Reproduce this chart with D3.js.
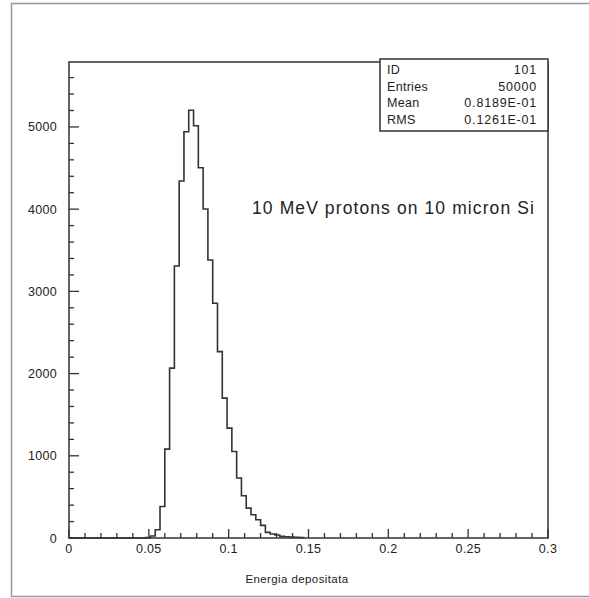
<!DOCTYPE html>
<html>
<head>
<meta charset="utf-8">
<script src="https://cdn.jsdelivr.net/npm/d3@7"></script>
<style>
  body { margin: 0; background: #fff; }
  text { font-family: "Liberation Sans", Arial, sans-serif; fill: #222; }
</style>
</head>
<body>
<div id="chart"></div>
<script>
// histogram 101 : energy deposited, bins of 0.003
const binLow = [0.048, 0.051, 0.054, 0.057, 0.060, 0.063, 0.066, 0.069, 0.072, 0.075,
                0.078, 0.081, 0.084, 0.087, 0.090, 0.093, 0.096, 0.099, 0.102, 0.105,
                0.108, 0.111, 0.114, 0.117, 0.120, 0.123, 0.126, 0.129, 0.132, 0.135,
                0.138, 0.141, 0.144]
const counts = [4, 25, 101, 384, 1081, 2066, 3309, 4343, 4941, 5204,
                5014, 4503, 4001, 3382, 2855, 2267, 1701, 1336, 1052, 729,
                514, 364, 283, 222, 153, 68, 48, 36, 20, 15,
                12, 10, 6]
const binWidth = 0.003

const xTicks = [0, 0.05, 0.1, 0.15, 0.2, 0.25, 0.3]
const yTicks = [0, 1000, 2000, 3000, 4000, 5000]
const statLabels = ['ID', 'Entries', 'Mean', 'RMS']
const statValues = ['101', '50000', '0.8189E-01', '0.1261E-01']

const width = 589, height = 598
const margin = {left: 69, right: 41, top: 62, bottom: 60}

let svg = d3.select('#chart').append('svg')
  .attr('width', width)
  .attr('height', height)

// outer page frame (right side runs off the picture)
svg.append('rect')
  .attr('x', 11.5).attr('y', 3.5)
  .attr('width', 700).attr('height', 593)
  .attr('fill', 'none')
  .attr('stroke', '#999')
  .attr('stroke-width', 1.5)

let x = d3.scaleLinear()
  .domain([0, 0.3])
  .range([margin.left, width - margin.right])
let y = d3.scaleLinear()
  .domain([0, 5790])
  .range([height - margin.bottom, margin.top])

let x0 = x.range()[0], x1 = x.range()[1]
let y0 = y.range()[0], y1 = y.range()[1]

// minor + major ticks, pointing inwards
let ax = svg.append('g').attr('stroke', '#333').attr('stroke-width', 1.3)
d3.range(0, 31).forEach(i => {
  let v = i / 100
  let len = (i % 5 === 0) ? 9 : 5
  ax.append('line')
    .attr('x1', x(v)).attr('x2', x(v))
    .attr('y1', y0).attr('y2', y0 - len)
})
d3.range(0, 29).forEach(i => {
  let v = i * 200
  let len = (i % 5 === 0) ? 10 : 5
  ax.append('line')
    .attr('x1', x0).attr('x2', x0 + len)
    .attr('y1', y(v)).attr('y2', y(v))
})

// frame of the plot
svg.append('rect')
  .attr('x', x0).attr('y', y1)
  .attr('width', x1 - x0).attr('height', y0 - y1)
  .attr('fill', 'none')
  .attr('stroke', '#333')
  .attr('stroke-width', 1.5)

svg.append('g').selectAll('text')
  .data(xTicks)
  .enter().append('text')
  .attr('x', d => x(d))
  .attr('y', y0 + 15)
  .attr('text-anchor', 'middle')
  .attr('font-size', 12.5)
  .attr('letter-spacing', 0.3)
  .text(d => d)

svg.append('g').selectAll('text')
  .data(yTicks)
  .enter().append('text')
  .attr('x', x0 - 12)
  .attr('y', d => y(d) + 4.5)
  .attr('text-anchor', 'end')
  .attr('font-size', 12.5)
  .attr('letter-spacing', 0.3)
  .text(d => d)

svg.append('text')
  .attr('x', 297)
  .attr('y', 583)
  .attr('text-anchor', 'middle')
  .attr('font-size', 11.5)
  .attr('letter-spacing', 0.4)
  .text('Energia depositata')

// histogram as one step line
let path = d3.path()
path.moveTo(x0, y0)
path.lineTo(x(binLow[0]), y0)
binLow.forEach((b, i) => {
  path.lineTo(x(b), y(counts[i]))
  path.lineTo(x(b + binWidth), y(counts[i]))
})
path.lineTo(x(binLow[binLow.length - 1] + binWidth), y0)

svg.append('path')
  .attr('d', path.toString())
  .attr('fill', 'none')
  .attr('stroke', '#333')
  .attr('stroke-width', 1.6)

// stats box
let box = {x: 380, y: 59, w: x1 - 380, h: 72}
svg.append('rect')
  .attr('x', box.x).attr('y', box.y)
  .attr('width', box.w).attr('height', box.h)
  .attr('fill', '#fff')
  .attr('stroke', '#333')
  .attr('stroke-width', 1.5)

statLabels.forEach((s, i) => {
  svg.append('text')
    .attr('x', box.x + 7)
    .attr('y', box.y + 15 + i * 16.7)
    .attr('font-size', 12.5)
    .attr('letter-spacing', 0.3)
    .text(s)
  svg.append('text')
    .attr('x', x1 - 11)
    .attr('y', box.y + 15 + i * 16.7)
    .attr('text-anchor', 'end')
    .attr('font-size', 12.5)
    .attr('letter-spacing', 0.8)
    .text(statValues[i])
})

svg.append('text')
  .attr('x', 252)
  .attr('y', 214)
  .attr('font-size', 17.5)
  .attr('letter-spacing', 1.1)
  .text('10 MeV protons on 10 micron Si')
</script>
</body>
</html>
